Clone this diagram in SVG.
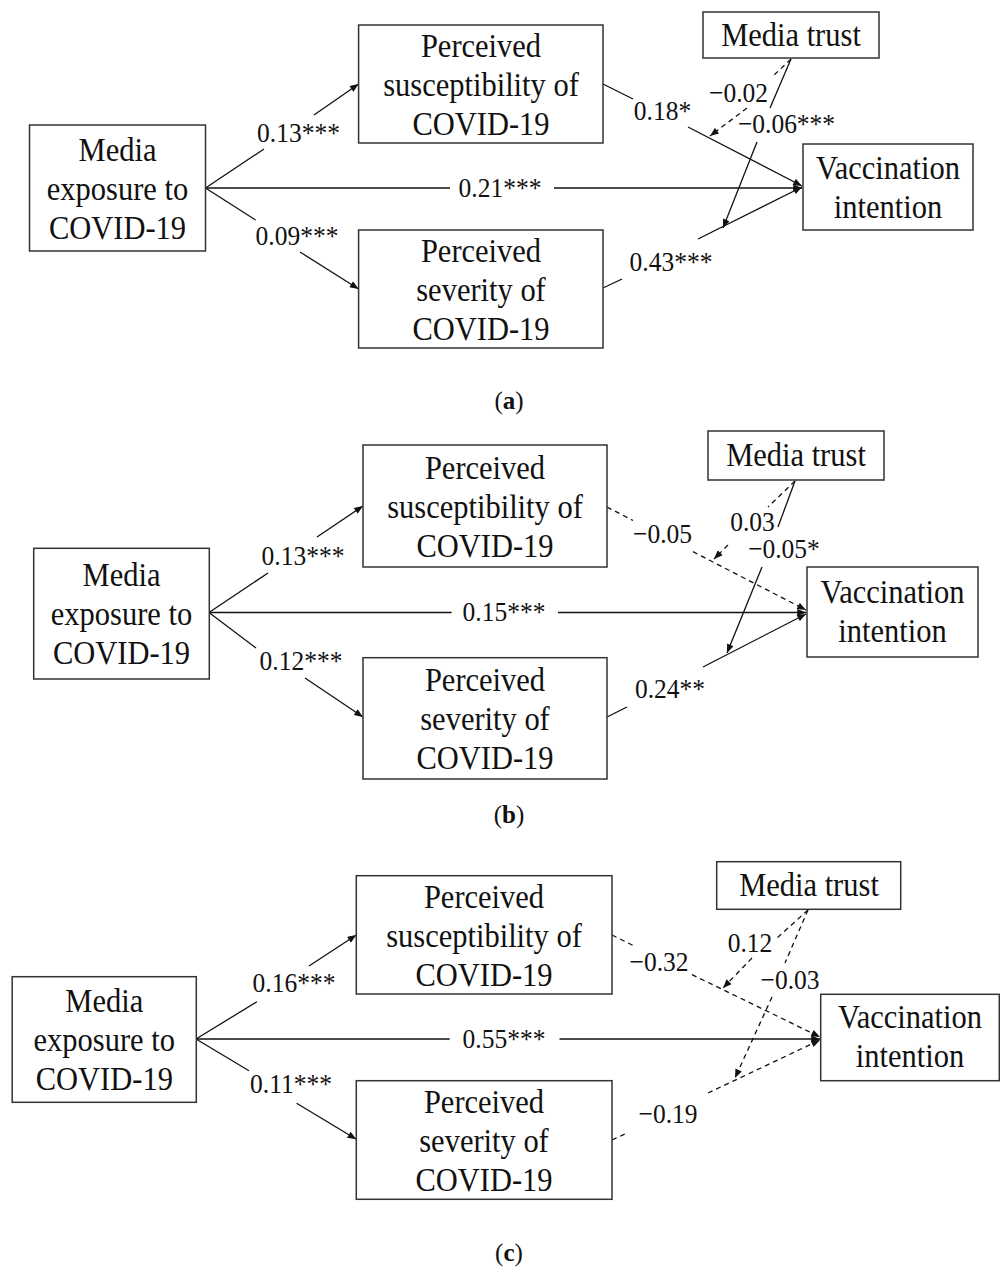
<svg xmlns="http://www.w3.org/2000/svg" width="1000" height="1271" viewBox="0 0 1000 1271">
<defs>
<marker id="ah" viewBox="0 0 10 8" refX="10" refY="4" markerWidth="10" markerHeight="7" markerUnits="userSpaceOnUse" orient="auto"><path d="M0,0 L10,4 L0,8 z" fill="#111"/></marker>
<style>
.box{fill:#fff;stroke:#333;stroke-width:1.5}
.n{font-family:"Liberation Serif","Times New Roman",serif;font-size:30.5px;fill:#111;text-anchor:middle}
.l{font-family:"Liberation Serif","Times New Roman",serif;font-size:25.5px;fill:#111;text-anchor:middle}
.cap{font-family:"Liberation Serif","Times New Roman",serif;font-size:25px;fill:#111;text-anchor:middle}
.s{fill:none;stroke:#111;stroke-width:1.3}
.d{fill:none;stroke:#111;stroke-width:1.3;stroke-dasharray:5 4}
.e{marker-end:url(#ah)}
</style>
</defs>
<rect width="1000" height="1271" fill="#fff"/>

<!-- ===== Panel a ===== -->
<g id="a-connectors">
<line class="s" x1="205.5" y1="188" x2="264" y2="149"/>
<line class="s e" x1="314" y1="115" x2="358.6" y2="84"/>
<line class="s" x1="205.5" y1="188" x2="255.6" y2="220"/>
<line class="s e" x1="300" y1="252" x2="358.6" y2="289"/>
<line class="s" x1="205.5" y1="188" x2="450" y2="188"/>
<line class="s e" x1="554" y1="188" x2="802" y2="188"/>
<line class="s" x1="603" y1="84" x2="633" y2="99"/>
<line class="s e" x1="688" y1="127" x2="802" y2="186"/>
<line class="s" x1="603" y1="288" x2="622" y2="279"/>
<line class="s e" x1="698" y1="239" x2="802" y2="187"/>
<line class="d" x1="791" y1="59" x2="772" y2="77"/>
<line class="d e" x1="747" y1="108" x2="710" y2="136"/>
<line class="s" x1="791" y1="59" x2="770" y2="108"/>
<line class="s e" x1="757" y1="142" x2="723" y2="228"/>
<text class="l" transform="translate(298.5,142) scale(1,1.08)">0.13***</text>
<text class="l" transform="translate(297,245) scale(1,1.08)">0.09***</text>
<text class="l" transform="translate(500,197) scale(1,1.08)">0.21***</text>
<text class="l" transform="translate(662.5,120) scale(1,1.08)">0.18*</text>
<text class="l" transform="translate(671,271) scale(1,1.08)">0.43***</text>
<text class="l" transform="translate(738.5,102) scale(1,1.08)">−0.02</text>
<text class="l" transform="translate(786.5,133) scale(1,1.08)">−0.06***</text>
</g>
<g id="a-media">
<rect class="box" x="29.5" y="125" width="176" height="126"/>
<text class="n" transform="translate(117.5,161) scale(1,1.08)">Media</text>
<text class="n" transform="translate(117.5,200) scale(1,1.08)">exposure to</text>
<text class="n" transform="translate(117.5,239) scale(1,1.08)">COVID-19</text>
</g>
<g id="a-susc">
<rect class="box" x="358.6" y="25" width="244.4" height="118"/>
<text class="n" transform="translate(481,57) scale(1,1.08)">Perceived</text>
<text class="n" transform="translate(481,96) scale(1,1.08)">susceptibility of</text>
<text class="n" transform="translate(481,135) scale(1,1.08)">COVID-19</text>
</g>
<g id="a-sev">
<rect class="box" x="358.6" y="230" width="244.4" height="118"/>
<text class="n" transform="translate(481,262) scale(1,1.08)">Perceived</text>
<text class="n" transform="translate(481,301) scale(1,1.08)">severity of</text>
<text class="n" transform="translate(481,340) scale(1,1.08)">COVID-19</text>
</g>
<g id="a-trust">
<rect class="box" x="703" y="12" width="176" height="46"/>
<text class="n" transform="translate(791,46) scale(1,1.08)">Media trust</text>
</g>
<g id="a-vacc">
<rect class="box" x="803" y="144" width="170" height="86"/>
<text class="n" transform="translate(888,179) scale(1,1.08)">Vaccination</text>
<text class="n" transform="translate(888,218) scale(1,1.08)">intention</text>
</g>
<text class="cap" x="509" y="409">(<tspan font-weight="bold">a</tspan>)</text>

<!-- ===== Panel b ===== -->
<g id="b-connectors">
<line class="s" x1="209" y1="612.5" x2="268" y2="573"/>
<line class="s e" x1="317" y1="537" x2="363" y2="506"/>
<line class="s" x1="209" y1="612.5" x2="256" y2="648"/>
<line class="s e" x1="305" y1="678" x2="363" y2="717"/>
<line class="s" x1="209" y1="612.5" x2="451.6" y2="612.5"/>
<line class="s e" x1="558" y1="612.5" x2="806" y2="612.5"/>
<line class="d" x1="607" y1="507" x2="633" y2="520.5"/>
<line class="d e" x1="693" y1="551.7" x2="806" y2="610"/>
<line class="s" x1="607" y1="717" x2="627" y2="707"/>
<line class="s e" x1="703" y1="667" x2="806" y2="614"/>
<line class="d" x1="795" y1="481" x2="768" y2="507"/>
<line class="d e" x1="728" y1="545" x2="714" y2="559"/>
<line class="s" x1="795" y1="481" x2="778" y2="527"/>
<line class="s e" x1="762" y1="567" x2="727" y2="653"/>
<text class="l" transform="translate(303,565) scale(1,1.08)">0.13***</text>
<text class="l" transform="translate(301,670) scale(1,1.08)">0.12***</text>
<text class="l" transform="translate(504,621) scale(1,1.08)">0.15***</text>
<text class="l" transform="translate(662.5,543) scale(1,1.08)">−0.05</text>
<text class="l" transform="translate(670,698) scale(1,1.08)">0.24**</text>
<text class="l" transform="translate(752.5,531) scale(1,1.08)">0.03</text>
<text class="l" transform="translate(784,558) scale(1,1.08)">−0.05*</text>
</g>
<g id="b-media">
<rect class="box" x="33.7" y="548.3" width="175.6" height="130.7"/>
<text class="n" transform="translate(121.5,586) scale(1,1.08)">Media</text>
<text class="n" transform="translate(121.5,625) scale(1,1.08)">exposure to</text>
<text class="n" transform="translate(121.5,664) scale(1,1.08)">COVID-19</text>
</g>
<g id="b-susc">
<rect class="box" x="363" y="445" width="244" height="122"/>
<text class="n" transform="translate(485,479) scale(1,1.08)">Perceived</text>
<text class="n" transform="translate(485,518) scale(1,1.08)">susceptibility of</text>
<text class="n" transform="translate(485,557) scale(1,1.08)">COVID-19</text>
</g>
<g id="b-sev">
<rect class="box" x="363" y="657.7" width="244" height="121.3"/>
<text class="n" transform="translate(485,691) scale(1,1.08)">Perceived</text>
<text class="n" transform="translate(485,730) scale(1,1.08)">severity of</text>
<text class="n" transform="translate(485,769) scale(1,1.08)">COVID-19</text>
</g>
<g id="b-trust">
<rect class="box" x="708" y="431" width="176" height="49"/>
<text class="n" transform="translate(796,466) scale(1,1.08)">Media trust</text>
</g>
<g id="b-vacc">
<rect class="box" x="807" y="567" width="171" height="90"/>
<text class="n" transform="translate(892.5,603) scale(1,1.08)">Vaccination</text>
<text class="n" transform="translate(892.5,642) scale(1,1.08)">intention</text>
</g>
<text class="cap" x="509" y="823">(<tspan font-weight="bold">b</tspan>)</text>

<!-- ===== Panel c ===== -->
<g id="c-connectors">
<line class="s" x1="196" y1="1039" x2="257" y2="1001.7"/>
<line class="s e" x1="309" y1="966" x2="356.3" y2="935"/>
<line class="s" x1="196" y1="1039" x2="249" y2="1070.7"/>
<line class="s e" x1="296.6" y1="1103.3" x2="356.3" y2="1139.3"/>
<line class="s" x1="196" y1="1039" x2="449.7" y2="1039"/>
<line class="s e" x1="559.5" y1="1039" x2="820" y2="1039"/>
<line class="d" x1="612" y1="935" x2="635" y2="946.4"/>
<line class="d e" x1="692" y1="974.6" x2="820" y2="1037"/>
<line class="d" x1="612" y1="1140" x2="625" y2="1134"/>
<line class="d e" x1="708" y1="1093" x2="820" y2="1040"/>
<line class="d" x1="808" y1="910" x2="777" y2="938"/>
<line class="d e" x1="752" y1="958" x2="723" y2="988"/>
<line class="d" x1="808" y1="910" x2="785" y2="963"/>
<line class="d e" x1="772" y1="997" x2="735" y2="1078"/>
<text class="l" transform="translate(294,992) scale(1,1.08)">0.16***</text>
<text class="l" transform="translate(291,1093) scale(1,1.08)">0.11***</text>
<text class="l" transform="translate(504,1048) scale(1,1.08)">0.55***</text>
<text class="l" transform="translate(659,971) scale(1,1.08)">−0.32</text>
<text class="l" transform="translate(668,1123) scale(1,1.08)">−0.19</text>
<text class="l" transform="translate(750,952) scale(1,1.08)">0.12</text>
<text class="l" transform="translate(790,989) scale(1,1.08)">−0.03</text>
</g>
<g id="c-media">
<rect class="box" x="12.2" y="976.7" width="184.1" height="125.6"/>
<text class="n" transform="translate(104.3,1012) scale(1,1.08)">Media</text>
<text class="n" transform="translate(104.3,1051) scale(1,1.08)">exposure to</text>
<text class="n" transform="translate(104.3,1090) scale(1,1.08)">COVID-19</text>
</g>
<g id="c-susc">
<rect class="box" x="356.3" y="875.7" width="255.7" height="118.3"/>
<text class="n" transform="translate(484,908) scale(1,1.08)">Perceived</text>
<text class="n" transform="translate(484,947) scale(1,1.08)">susceptibility of</text>
<text class="n" transform="translate(484,986) scale(1,1.08)">COVID-19</text>
</g>
<g id="c-sev">
<rect class="box" x="356.3" y="1080.7" width="255.7" height="118.6"/>
<text class="n" transform="translate(484,1113) scale(1,1.08)">Perceived</text>
<text class="n" transform="translate(484,1152) scale(1,1.08)">severity of</text>
<text class="n" transform="translate(484,1191) scale(1,1.08)">COVID-19</text>
</g>
<g id="c-trust">
<rect class="box" x="716.7" y="861.7" width="184" height="47.6"/>
<text class="n" transform="translate(809,896) scale(1,1.08)">Media trust</text>
</g>
<g id="c-vacc">
<rect class="box" x="820.7" y="994.3" width="178.6" height="86.4"/>
<text class="n" transform="translate(910,1028) scale(1,1.08)">Vaccination</text>
<text class="n" transform="translate(910,1067) scale(1,1.08)">intention</text>
</g>
<text class="cap" x="509" y="1261">(<tspan font-weight="bold">c</tspan>)</text>
</svg>
